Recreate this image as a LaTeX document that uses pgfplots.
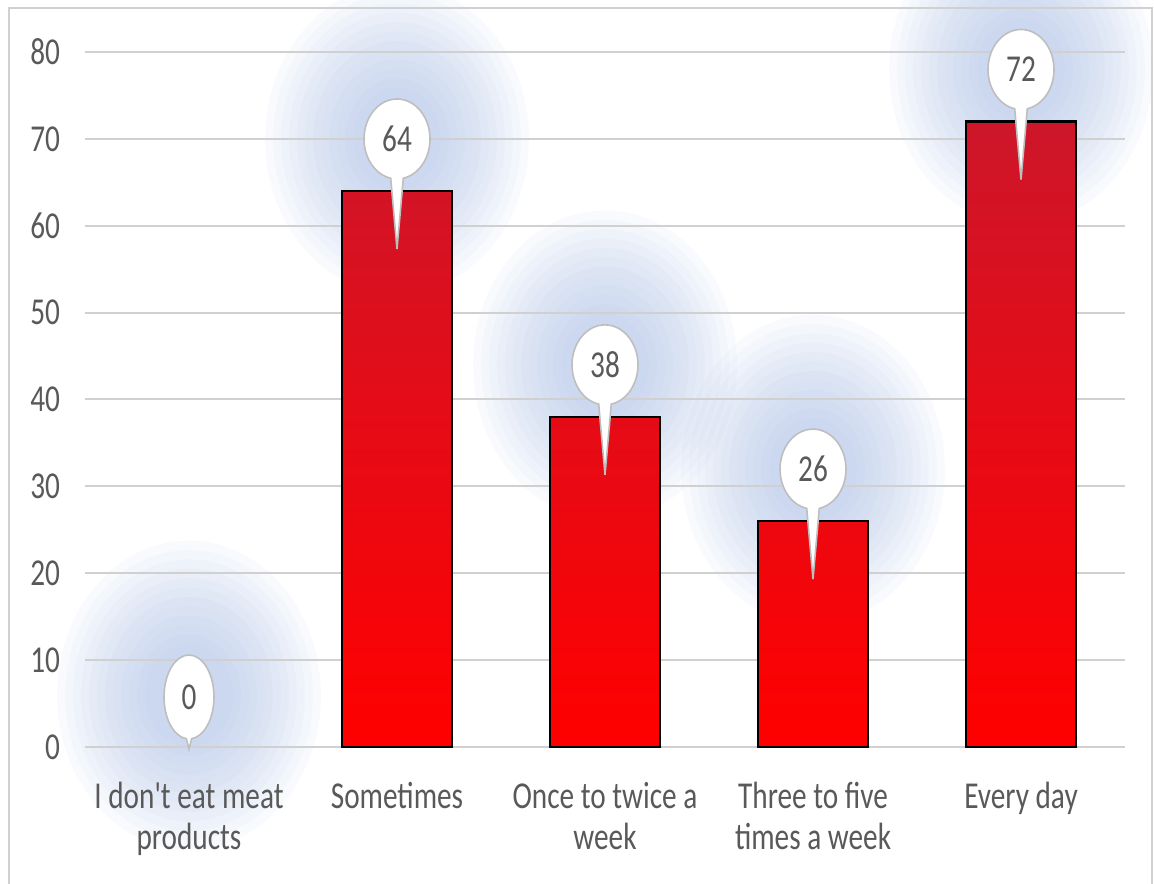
\documentclass[border=0pt]{standalone}
\usepackage{fontspec}
\setmainfont{Carlito}[FakeStretch=0.77, Ligatures=TeXOff]
\usepackage{pgfplots}
\pgfplotsset{compat=1.18}
\usetikzlibrary{shapes.callouts}
\definecolor{txt}{RGB}{89,89,89}
\definecolor{gridc}{RGB}{208,208,208}
\definecolor{glow}{RGB}{165,186,226}
\definecolor{bartop}{RGB}{205,22,42}
\definecolor{barbot}{RGB}{255,0,0}
\definecolor{bubble}{RGB}{190,190,190}
\begin{document}
\begin{tikzpicture}
\begin{axis}[name=ax, scale only axis, width=520pt, height=347.5pt,
  xmin=-0.5, xmax=4.5, ymin=0, ymax=80,
  ytick={0,10,...,80}, xtick={0,...,4},
  xticklabels={{I don't eat meat\\products},Sometimes,{Once to twice a\\week},{Three to five\\times a week},Every day},
  ymajorgrids, grid style={gridc, line width=1pt},
  axis line style={draw=none}, major tick length=0pt,
  tick label style={font=\fontsize{19}{20.5}\selectfont, text=txt},
  xticklabel style={align=center, yshift=-14pt},
  yticklabel style={xshift=-9pt},
  /pgf/number format/assume math mode=true,
  clip=false, set layers]
\pgfplotsinvokeforeach{66,62,58,54,50,46,42,38,34,30,26,22}{
\addplot[on layer=axis background, mark layer=axis background, only marks, mark=*,
  mark size=#1pt, mark options={draw opacity=0, fill=glow, fill opacity=0.065, yshift=26pt, yscale=1.17}]
  coordinates {(0,0) (1,64) (2,38) (3,26) (4,72)};
}
\addplot[ybar, bar width=55pt, bar shift=0pt, draw=black, line width=1.2pt, top color=bartop, bottom color=barbot]
  coordinates {(1,64) (2,38) (3,26) (4,72)};
\addplot[draw=none, mark=none, nodes near coords,
  every node near coord/.style={ellipse callout, draw=bubble, line width=0.8pt, fill=white, text=txt, font=\fontsize{19}{19}\selectfont, minimum width=33pt, minimum height=40pt, inner sep=0pt, anchor=center, yshift=26pt, callout relative pointer={(canvas cs:x=0pt,y=-35pt)}, callout pointer arc=22}]
  coordinates {(1,64) (2,38) (3,26) (4,72)};
\addplot[draw=none, mark=none, nodes near coords,
  every node near coord/.style={ellipse callout, draw=bubble, line width=0.8pt, fill=white, text=txt, font=\fontsize{19}{19}\selectfont, minimum width=25pt, minimum height=42pt, inner sep=0pt, anchor=center, yshift=25pt, callout relative pointer={(canvas cs:x=0pt,y=-5pt)}, callout pointer arc=12}]
  coordinates {(0,0)};
\end{axis}
\pgfresetboundingbox
\path[use as bounding box] ([shift={(-42.5pt,-68pt)}]ax.south west) rectangle ([shift={(14.5pt,26pt)}]ax.north east);
\draw[gridc, line width=1pt] ([shift={(-38pt,-70pt)}]ax.south west) |- ([shift={(13.5pt,22pt)}]ax.north east) -- ([shift={(13.5pt,-70pt)}]ax.south east);
\end{tikzpicture}
\end{document}
